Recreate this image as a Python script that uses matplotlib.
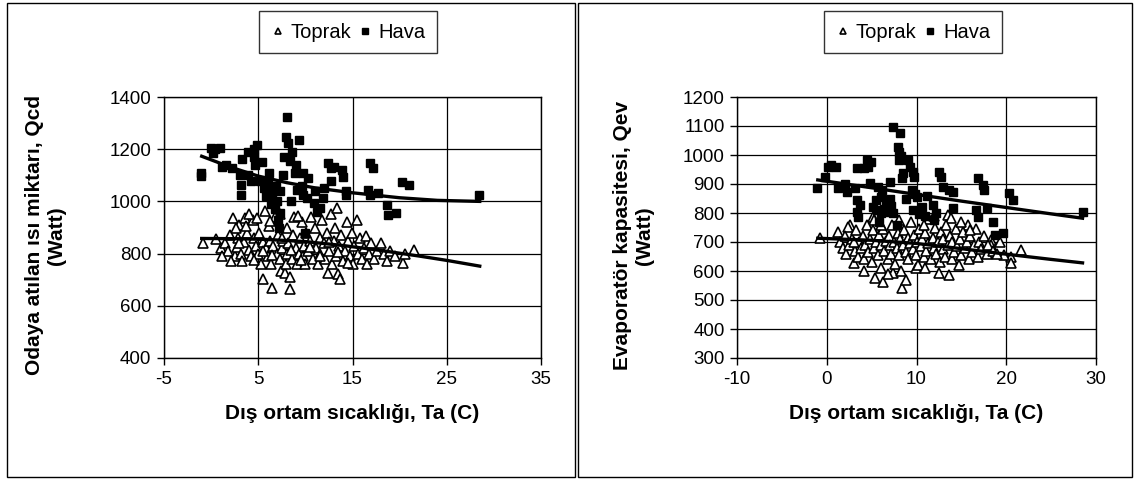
import numpy as np
import matplotlib
matplotlib.use("Agg")
import matplotlib.pyplot as plt
from matplotlib.patches import Rectangle
from matplotlib.lines import Line2D

plt.rcParams['font.family'] = ['Liberation Sans', 'DejaVu Sans']
plt.rcParams['axes.unicode_minus'] = False

# ---------------- data: left panel (heat rejected to room, Qcd) ----------------
qcd_hava_t = [-1.1, -1.1, 0.0, 0.4, 0.9, 0.2, 1.2, 2.2, 1.6, 3.3, 3.1, 3.2, 3.2, 3.9, 4.5, 4.9,
              4.6, 3.9, 4.2, 4.7, 5.2, 5.6, 6.0, 6.4, 6.9, 7.3, 5.8, 6.5, 7.6, 8.1, 7.9, 8.2,
              9.3, 7.7, 8.4, 8.6, 9.0, 8.9, 9.8, 10.3, 9.6, 6.3, 6.8, 7.3, 7.0, 7.1, 7.2, 9.8,
              10.2, 10.9, 11.9, 10.0, 11.2, 11.5, 12.4, 12.7, 13.0, 13.9, 14.0, 12.7, 14.3, 14.3,
              16.6, 16.9, 16.9, 17.2, 18.7, 18.8, 19.6, 20.3, 21.0, 28.4, 17.7, 6.1, 5.4, 8.5,
              9.1, 11.0, 12.0]
qcd_hava = [1096, 1110, 1205, 1200, 1204, 1185, 1130, 1127, 1140, 1162, 1100, 1062, 1023, 1188, 1200, 1215,
            1170, 1100, 1080, 1140, 1080, 1050, 1070, 1040, 1060, 1040, 1020, 1020, 1100, 1323, 1246, 1223,
            1234, 1170, 1155, 1190, 1140, 1110, 1108, 1088, 1060, 990, 970, 955, 1000, 927, 900, 1023,
            1012, 992, 1012, 880, 960, 975, 1146, 1127, 1131, 1119, 1092, 1080, 1023, 1040,
            1042, 1023, 1146, 1127, 985, 946, 954, 1073, 1062, 1023, 1031, 1110, 1150, 1000,
            1045, 1040, 1050]

qcd_toprak_t = [-0.9, 0.5, 1.0, 1.5, 1.8, 2.0, 2.3, 2.5, 2.7, 2.9, 3.0, 3.2, 3.3, 3.5, 3.6, 3.8,
                4.0, 4.2, 4.4, 4.5, 4.8, 4.9, 5.0, 5.1, 5.3, 5.5, 5.5, 5.7, 5.8, 6.0, 6.1, 6.2,
                6.4, 6.5, 6.6, 6.8, 7.0, 7.1, 7.3, 7.4, 7.5, 7.6, 7.8, 7.9, 8.0, 8.1, 8.2, 8.4,
                8.4, 8.6, 8.7, 8.8, 9.0, 9.1, 9.3, 9.4, 9.6, 9.7, 9.9, 10.0, 10.1, 10.3, 10.5, 10.6,
                10.8, 11.0, 11.1, 11.3, 11.5, 11.6, 11.8, 12.0, 12.1, 12.3, 12.4, 12.5, 12.7, 12.8,
                13.0, 13.1, 13.3, 13.4, 13.5, 13.6, 13.7, 13.8, 14.0, 14.2, 14.4, 14.5, 14.7, 14.9,
                15.0, 15.2, 15.5, 15.6, 15.8, 16.0, 16.2, 16.4, 16.5, 16.8, 17.0, 17.3, 17.6, 18.0,
                18.3, 18.7, 19.0, 19.5, 20.4, 20.6, 21.5, 3.0, 4.5, 5.5, 6.5, 7.5, 8.5, 9.5,
                10.5, 11.5, 12.5, 13.5, 14.5, 6.2, 7.3, 9.2, 2.6, 3.7, 4.0, 1.2, 2.1]
qcd_toprak = [842, 855, 820, 840, 810, 870, 938, 790, 825, 860, 910, 800, 770, 845, 938, 880,
              815, 790, 930, 860, 830, 938, 800, 880, 760, 704, 845, 965, 820, 790, 905, 850,
              760, 669, 830, 940, 800, 870, 780, 735, 820, 850, 725, 760, 900, 800, 840, 665,
              710, 780, 870, 940, 820, 760, 800, 860, 920, 790, 830, 760, 880, 810, 850, 940,
              780, 900, 820, 760, 860, 800, 930, 840, 780, 880, 727, 810, 950, 760,
              850, 900, 790, 973, 723, 830, 704, 870, 770, 810, 920, 850, 790, 880,
              760, 830, 927, 800, 860, 780, 820, 869, 760, 800, 840, 780, 810, 842,
              800, 770, 810, 790, 765, 800, 812, 840, 775, 810, 795, 860, 815, 775,
              825, 790, 845, 805, 765, 925, 950, 945, 900, 905, 950, 790, 770]

# trend lines, read at selected temperatures
qcd_hava_trend_t = [-1, 2, 5, 8, 11, 15, 20, 24, 28.5]
qcd_hava_trend = [1173, 1132, 1097, 1072, 1052, 1033, 1014, 1004, 1000]
qcd_toprak_trend_t = [-1, 3, 6, 10, 14, 18, 22, 25, 28.5]
qcd_toprak_trend = [858, 857, 854, 846, 831, 812, 791, 774, 752]

# ---------------- data: right panel (evaporator capacity, Qev) ----------------
qev_hava_t = [-1.1, -0.2, 0.1, 1.0, 0.5, 1.2, 2.3, 3.2, 2.0, 3.4, 3.7, 3.4, 3.5, 4.5, 4.6, 4.1,
              3.4, 4.9, 5.2, 5.6, 6.0, 6.4, 6.9, 7.4, 5.5, 6.0, 6.6, 7.0, 7.2, 7.1, 7.4, 8.2,
              7.9, 8.1, 8.3, 8.0, 9.1, 9.3, 9.6, 9.7, 8.5, 8.4, 9.5, 9.8, 10.1, 9.6, 10.3, 11.0,
              11.9, 10.6, 12.5, 12.7, 13.0, 13.6, 14.1, 11.8, 14.1, 16.9, 17.4, 17.5, 16.6, 16.8,
              17.9, 18.5, 18.8, 19.6, 20.3, 20.8, 28.5, 6.2, 5.8, 7.8, 8.8, 11.2, 12.2, 4.8, 5.7]
qev_hava = [886, 924, 959, 959, 965, 886, 872, 886, 900, 845, 828, 803, 786, 983, 959, 955,
            955, 975, 820, 810, 800, 815, 805, 800, 845, 855, 834, 850, 825, 907, 1097, 1076,
            1028, 1010, 995, 983, 983, 960, 940, 924, 938, 920, 879, 867, 855, 810, 795, 790,
            776, 820, 941, 924, 890, 880, 872, 828, 817, 921, 897, 879, 810, 786,
            817, 769, 724, 731, 869, 845, 803, 880, 770, 760, 850, 860, 800, 905, 890]

qev_toprak_t = [-0.7, 1.2, 2.6, 2.4, 5.2, 5.3, 13.5, 13.8, 15.7, 18.3, 18.3, 20.5, 20.5, 21.6, 19.7, 3.0,
                5.4, 6.3, 8.4, 7.4, 8.8, 12.5, 13.6, 9.9, 1.5, 1.8, 2.0, 2.2, 2.5, 2.8, 3.1, 3.3,
                3.5, 3.6, 3.8, 4.0, 4.1, 4.3, 4.5, 4.6, 4.8, 5.0, 5.1, 5.3, 5.5, 5.7, 5.8, 6.0,
                6.1, 6.3, 6.4, 6.6, 6.8, 6.9, 7.0, 7.2, 7.3, 7.5, 7.6, 7.8, 7.9, 8.0, 8.2, 8.3,
                8.5, 8.6, 8.8, 9.0, 9.1, 9.3, 9.4, 9.6, 9.7, 9.9, 10.0, 10.2, 10.3, 10.5, 10.6, 10.8,
                11.0, 11.1, 11.3, 11.4, 11.6, 11.8, 11.9, 12.1, 12.2, 12.4, 12.6, 12.7, 12.9, 13.0, 13.2, 13.3,
                13.5, 13.7, 13.9, 14.0, 14.2, 14.4, 14.5, 14.7, 14.9, 15.0, 15.2, 15.4, 15.6, 15.8, 16.0, 16.2,
                16.4, 16.6, 16.8, 17.0, 17.2, 17.5, 17.8, 18.0, 18.5, 19.0, 19.3, 3.0, 6.0, 8.0,
                10.8, 12.0, 4.2, 6.8, 11.0, 15.0, 16.0]
qev_toprak = [714, 734, 759, 752, 786, 775, 793, 783, 759, 707, 690, 648, 628, 672, 655, 628,
              576, 562, 541, 593, 569, 593, 586, 610, 700, 680, 720, 660, 690, 710, 670, 740,
              650, 700, 680, 720, 640, 690, 760, 665, 710, 630, 740, 680, 700, 655, 725, 610,
              690, 745, 670, 705, 640, 720, 690, 660, 760, 700, 625, 680, 730, 655, 710, 600,
              690, 740, 665, 715, 640, 695, 770, 675, 725, 655, 700, 620, 745, 685, 710, 650,
              730, 670, 695, 780, 640, 715, 680, 750, 660, 700, 630, 735, 675, 710, 650, 760,
              690, 720, 640, 700, 665, 745, 685, 620, 710, 655, 735, 680, 700, 640, 720, 665,
              690, 745, 650, 700, 675, 720, 660, 690, 670, 660, 700, 700, 760, 775,
              760, 790, 600, 590, 610, 770, 740]

qev_hava_trend_t = [-1, 5, 10, 15, 20, 25, 28.5]
qev_hava_trend = [914, 887, 864, 841, 819, 797, 782]
qev_toprak_trend_t = [-1, 5, 10, 15, 20, 25, 28.5]
qev_toprak_trend = [713, 706, 695, 677, 658, 640, 628]

series_names = ["Toprak", "Hava"]
xlabel_text = "Dış ortam sıcaklığı, Ta (C)"
ylabel_left = "Odaya atılan ısı miktarı, Qcd\n(Watt)"
ylabel_right = "Evaporatör kapasitesi, Qev\n(Watt)"

left_xticks = [-5, 5, 15, 25, 35]
left_yticks = [400, 600, 800, 1000, 1200, 1400]
right_xticks = [-10, 0, 10, 20, 30]
right_yticks = [300, 400, 500, 600, 700, 800, 900, 1000, 1100, 1200]

# ---------------- figure ----------------
W, H = 1134, 479
fig = plt.figure(figsize=(W / 100, H / 100), dpi=100)
fig.patch.set_facecolor("white")


def px_rect(x0, y0, x1, y1):
    """Convert a pixel box (top-left origin) to figure fractions."""
    return [x0 / W, 1 - y1 / H, (x1 - x0) / W, (y1 - y0) / H]


# outer panel frames
for (x0, x1) in [(7, 575), (578, 1132)]:
    fig.patches.append(Rectangle((x0 / W, 2 / H), (x1 - x0) / W, (476 - 2) / H,
                                 transform=fig.transFigure, fill=False,
                                 edgecolor="black", linewidth=1.0))

FS = 13.5
FS_LABEL = 15
FS_LEG = 14.5


def panel(rect, tx, ty, hx, hy, t_tr_x, t_tr_y, h_tr_x, h_tr_y, xticks, yticks, ylabel, legend_cx):
    ax = fig.add_axes(rect)
    ax.set_xlim(xticks[0], xticks[-1])
    ax.set_ylim(yticks[0], yticks[-1])
    ax.set_xticks(xticks)
    ax.set_yticks(yticks)
    ax.grid(True, color="black", linewidth=0.9)
    ax.set_axisbelow(True)
    for s in ax.spines.values():
        s.set_linewidth(1.0)
        s.set_color("black")
    ax.tick_params(direction="out", length=5, width=1, labelsize=FS, pad=4)

    ax.plot(tx, ty, linestyle="none", marker="^", markersize=6.5, markerfacecolor="white",
            markeredgecolor="black", markeredgewidth=1.2, zorder=3)
    ax.plot(hx, hy, linestyle="none", marker="s", markersize=5.2, markerfacecolor="black",
            markeredgecolor="black", zorder=4)
    ax.plot(h_tr_x, h_tr_y, color="black", linewidth=2.4, zorder=5, solid_joinstyle="round")
    ax.plot(t_tr_x, t_tr_y, color="black", linewidth=2.4, zorder=5, solid_joinstyle="round")

    ax.set_xlabel(xlabel_text, fontsize=FS_LABEL, fontweight="bold", labelpad=12)
    ax.set_ylabel(ylabel, fontsize=FS_LABEL, fontweight="bold", linespacing=1.2)

    handles = [Line2D([], [], linestyle="none", marker="^", markersize=5, markerfacecolor="white",
                      markeredgecolor="black", markeredgewidth=1.2),
               Line2D([], [], linestyle="none", marker="s", markersize=5, markerfacecolor="black",
                      markeredgecolor="black")]
    leg = fig.legend(handles, series_names, loc="upper center",
                     bbox_to_anchor=(legend_cx / W, 1 - 11 / H), ncol=2, frameon=True,
                     fancybox=False, edgecolor="black", fontsize=FS_LEG, handlelength=0.7,
                     handletextpad=0.28, columnspacing=0.35, borderpad=0.58,
                     borderaxespad=0)
    leg.get_frame().set_linewidth(1.0)
    return ax


axL = panel(px_rect(164, 97, 541, 358), qcd_toprak_t, qcd_toprak, qcd_hava_t, qcd_hava,
            qcd_toprak_trend_t, qcd_toprak_trend, qcd_hava_trend_t, qcd_hava_trend,
            left_xticks, left_yticks, ylabel_left, 348)
axL.yaxis.set_label_coords(-0.26, 0.47)

axR = panel(px_rect(737, 97, 1096, 358), qev_toprak_t, qev_toprak, qev_hava_t, qev_hava,
            qev_toprak_trend_t, qev_toprak_trend, qev_hava_trend_t, qev_hava_trend,
            right_xticks, right_yticks, ylabel_right, 913)
axR.yaxis.set_label_coords(-0.23, 0.47)

fig.savefig("out.png", dpi=100)
